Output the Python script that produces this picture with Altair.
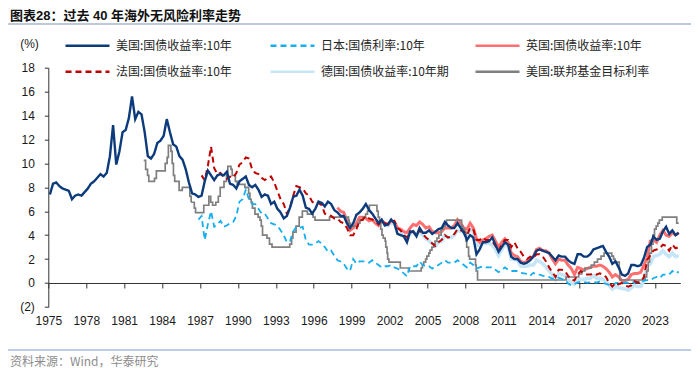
import altair as alt
import pandas as pd

# ---------------- data ----------------
S_US = "美国:国债收益率:10年"
S_JP = "日本:国债利率:10年"
S_UK = "英国:国债收益率:10年"
S_FR = "法国:国债收益率:10年"
S_DE = "德国:国债收益率:10年期"
S_FED = "美国:联邦基金目标利率"
# legend is filled column by column (2 rows x 3 columns)
series_names = [S_US, S_FR, S_JP, S_DE, S_UK, S_FED]
series_colors = ["#0C3B7C", "#C00000", "#16AEEF", "#C6E6F8", "#FF6F6F", "#7F7F7F"]
series_dash = [[1, 0], [6, 4], [6, 4], [1, 0], [1, 0], [1, 0]]

# quarterly readings, first quarter listed is the start of each series
us_start = 1975.0
us_10y = [
    7.4, 8.3, 8.4, 8.1,  7.9, 7.8, 7.7, 7.0,  7.3, 7.4, 7.3, 7.6,  7.9, 8.3, 8.5, 8.8,
    9.1, 8.9, 9.2, 10.6,  13.2, 9.9, 11.0, 12.6,  12.8, 13.8, 15.6, 13.7,  14.3, 14.1, 12.6, 10.6,
    10.4, 10.8, 11.7, 11.9,  12.3, 13.7, 12.6, 11.6,  11.4, 10.6, 10.3, 9.5,  8.4, 7.5, 7.4, 7.2,
    7.3, 8.5, 9.4, 9.0,  8.6, 9.0, 9.1, 9.0,  9.3, 8.3, 8.2, 7.9,  8.5, 8.7, 8.9, 8.2,
    8.0, 8.2, 7.8, 7.2,  7.4, 7.3, 6.6, 6.8,  6.2, 5.9, 5.4, 5.6,  6.3, 7.2, 7.3, 7.8,
    7.3, 6.3, 6.2, 5.8,  6.2, 6.8, 6.7, 6.4,  6.8, 6.6, 6.1, 5.9,  5.6, 5.6, 5.0, 4.6,
    5.0, 5.7, 5.9, 6.2,  6.6, 6.1, 5.8, 5.4,  5.0, 5.3, 4.8, 4.9,  5.3, 5.0, 4.1, 4.0,
    3.9, 3.4, 4.3, 4.3,  3.9, 4.6, 4.2, 4.2,  4.4, 4.1, 4.3, 4.5,  4.6, 5.1, 4.8, 4.6,
    4.6, 5.0, 4.6, 4.2,  3.6, 4.0, 3.8, 2.4,  2.8, 3.4, 3.4, 3.5,  3.8, 3.2, 2.6, 3.0,
    3.4, 3.2, 2.2, 2.0,  2.0, 1.7, 1.6, 1.7,  1.9, 2.2, 2.7, 2.8,  2.7, 2.6, 2.5, 2.2,
    1.9, 2.3, 2.2, 2.2,  1.9, 1.7, 1.6, 2.4,  2.4, 2.2, 2.2, 2.4,  2.8, 2.9, 3.0, 3.1,
    2.6, 2.2, 1.6, 1.8,  1.3, 0.7, 0.6, 0.8,  1.5, 1.5, 1.4, 1.5,  2.1, 3.0, 3.2, 3.9,
    3.6, 3.7, 4.3, 4.7,  4.1, 4.4, 4.0, 4.2,
]

jp_start = 1986.75
jp_10y = [
    5.3,
    5.6, 3.6, 4.9, 6.0,  4.7, 4.9, 5.2, 4.7,  4.8, 5.0, 5.1, 5.6,  6.8, 7.0, 7.8, 7.0,
    6.6, 6.6, 6.2, 5.8,  5.8, 5.4, 5.0, 4.9,  4.8, 4.4, 4.0, 3.4,  3.5, 4.3, 4.7, 4.6,
    4.7, 3.6, 3.2, 3.2,  3.3, 3.5, 3.3, 3.0,  2.6, 2.7, 2.3, 1.9,  1.8, 1.6, 1.2, 1.0,
    2.0, 1.6, 1.8, 1.8,  1.8, 1.7, 1.9, 1.7,  1.5, 1.3, 1.4, 1.4,  1.5, 1.3, 1.2, 1.0,
    0.8, 0.55, 1.4, 1.4,  1.4, 1.8, 1.5, 1.4,  1.4, 1.2, 1.4, 1.5,  1.7, 1.9, 1.7, 1.7,
    1.7, 1.9, 1.7, 1.5,  1.3, 1.7, 1.5, 1.2,  1.3, 1.4, 1.3, 1.3,  1.3, 1.1, 0.9, 1.1,
    1.3, 1.1, 1.0, 1.0,  1.0, 0.85, 0.8, 0.75,  0.6, 0.85, 0.7, 0.7,  0.6, 0.6, 0.5, 0.35,
    0.4, 0.45, 0.35, 0.3,  -0.05, -0.2, -0.1, 0.05,  0.07, 0.08, 0.03, 0.05,  0.05, 0.04, 0.12, 0.0,
    -0.08, -0.15, -0.2, -0.02,  0.0, 0.02, 0.02, 0.02,  0.1, 0.05, 0.05, 0.07,  0.2, 0.23, 0.24, 0.4,
    0.5, 0.4, 0.7, 0.7,  0.7, 1.0, 0.8, 0.95,
]

fr_start = 1987.0
fr_10y = [
    9.0, 8.6, 9.8, 11.4,  9.6, 9.1, 9.2, 8.8,  8.7, 8.9, 8.8, 9.2,  9.9, 10.1, 10.5, 10.4,
    9.5, 9.2, 9.1, 8.8,  8.6, 8.8, 8.9, 8.4,  7.7, 7.0, 6.6, 5.8,  6.3, 7.3, 8.1, 8.0,
    7.9, 7.5, 7.3, 6.8,  6.6, 6.7, 6.5, 5.8,  5.7, 5.6, 5.4, 5.4,  5.1, 5.0, 4.6, 4.0,
    4.0, 4.5, 5.2, 5.3,  5.6, 5.4, 5.3, 5.2,  4.9, 5.2, 5.0, 4.9,  5.1, 5.2, 4.6, 4.4,
    4.0, 3.8, 4.2, 4.3,  4.0, 4.4, 4.1, 3.8,  3.6, 3.3, 3.1, 3.4,  3.6, 4.0, 3.8, 3.9,
    4.1, 4.5, 4.4, 4.3,  4.0, 4.6, 4.5, 3.6,  3.6, 3.8, 3.6, 3.6,  3.5, 3.1, 2.7, 3.2,
    3.6, 3.6, 3.0, 3.4,  2.9, 2.6, 2.2, 2.0,  2.2, 2.1, 2.4, 2.4,  2.2, 1.8, 1.3, 0.9,
    0.5, 1.1, 1.1, 1.0,  0.6, 0.3, 0.2, 0.7,  1.0, 0.8, 0.7, 0.7,  0.8, 0.7, 0.8, 0.7,
    0.5, 0.0, -0.3, 0.0,  -0.1, 0.0, -0.2, -0.3,  -0.2, 0.15, 0.05, 0.1,  0.5, 1.9, 2.3, 2.7,
    2.8, 2.9, 3.2, 3.1,  2.7, 3.2, 2.9, 3.0,
]

uk_start = 1997.75
uk_10y = [
    6.3,
    6.0, 5.9, 5.2, 4.4,  4.6, 5.0, 5.5, 5.5,  5.4, 5.2, 5.3, 5.0,  4.8, 5.2, 5.0, 4.9,
    5.2, 5.1, 4.6, 4.5,  4.3, 4.2, 4.6, 4.9,  4.8, 5.1, 4.9, 4.6,  4.7, 4.3, 4.2, 4.2,
    4.3, 4.6, 4.6, 4.6,  4.8, 5.3, 5.0, 4.6,  4.5, 5.0, 4.6, 3.7,  3.4, 3.6, 3.7, 3.9,
    4.0, 3.5, 3.0, 3.4,  3.7, 3.4, 2.5, 2.3,  2.2, 1.8, 1.7, 1.8,  2.0, 2.2, 2.8, 2.9,
    2.7, 2.7, 2.5, 2.0,  1.6, 2.0, 1.9, 1.9,  1.5, 1.2, 0.7, 1.3,  1.2, 1.1, 1.2, 1.3,
    1.4, 1.4, 1.5, 1.4,  1.2, 0.9, 0.5, 0.7,  0.5, 0.2, 0.2, 0.3,  0.7, 0.8, 0.8, 0.9,
    1.5, 2.1, 3.5, 3.6,  3.4, 4.0, 4.4, 4.0,  3.9, 4.2, 4.0, 4.2,
]

de_start = 2001.5
de_10y = [
    5.0, 4.8,
    5.0, 5.0, 4.5, 4.4,  4.0, 3.8, 4.1, 4.3,  4.0, 4.3, 4.0, 3.7,  3.5, 3.3, 3.1, 3.4,
    3.5, 4.0, 3.8, 3.8,  4.0, 4.4, 4.3, 4.3,  3.9, 4.5, 4.3, 3.2,  3.1, 3.4, 3.3, 3.3,
    3.2, 2.8, 2.3, 2.8,  3.2, 3.1, 2.0, 2.0,  1.9, 1.4, 1.4, 1.4,  1.5, 1.5, 1.9, 1.8,
    1.6, 1.3, 1.0, 0.7,  0.3, 0.8, 0.7, 0.6,  0.3, 0.0, -0.1, 0.2,  0.3, 0.3, 0.4, 0.4,
    0.6, 0.4, 0.4, 0.3,  0.1, -0.2, -0.5, -0.3,  -0.4, -0.45, -0.5, -0.6,  -0.4, -0.2, -0.3, -0.3,
    0.2, 1.4, 1.6, 2.2,  2.3, 2.4, 2.7, 2.4,  2.2, 2.5, 2.2, 2.3,
]

fed_dates = [
    1982.55, 1982.7, 1982.85, 1982.95, 1983.4, 1983.55, 1984.25, 1984.4, 1984.5, 1984.7,
    1984.8, 1984.9, 1985.0, 1985.35, 1985.6, 1986.2, 1986.3, 1986.55, 1986.65, 1987.3,
    1987.7, 1987.85, 1988.0, 1988.25, 1988.45, 1988.6, 1988.9, 1989.1, 1989.2, 1989.45,
    1989.55, 1989.8, 1989.95, 1990.55, 1990.85, 1990.95, 1991.05, 1991.15, 1991.35, 1991.6,
    1991.75, 1991.85, 1991.95, 1992.3, 1992.5, 1992.7, 1994.1, 1994.25, 1994.35, 1994.6,
    1994.85, 1995.1, 1995.5, 1995.95, 1996.1, 1997.25, 1998.75, 1998.8, 1998.9, 1999.5,
    1999.65, 1999.9, 2000.1, 2000.25, 2000.4, 2001.0, 2001.1, 2001.2, 2001.3, 2001.4,
    2001.5, 2001.65, 2001.7, 2001.8, 2001.85, 2001.95, 2002.85, 2003.5, 2004.5, 2004.6,
    2004.7, 2004.85, 2004.95, 2005.1, 2005.2, 2005.35, 2005.5, 2005.6, 2005.75, 2005.9,
    2006.08, 2006.25, 2006.4, 2006.5, 2007.7, 2007.8, 2007.95, 2008.05, 2008.1, 2008.25,
    2008.33, 2008.8, 2008.85, 2008.96, 2015.96, 2016.96, 2017.2, 2017.45, 2017.96, 2018.2,
    2018.45, 2018.73, 2018.97, 2019.58, 2019.72, 2019.83, 2020.17, 2020.21, 2022.21, 2022.34,
    2022.46, 2022.57, 2022.72, 2022.84, 2022.96, 2023.09, 2023.22, 2023.34, 2023.57, 2024.72,
    2024.875,
]
fed_rate = [
    10.25, 9.5, 9.0, 8.5, 8.75, 9.375, 10.0, 10.5, 11.5, 11.0,
    10.0, 9.0, 8.5, 7.75, 8.0, 7.25, 6.75, 6.25, 5.875, 6.5,
    7.25, 6.75, 6.5, 6.75, 7.25, 8.0, 8.5, 9.0, 9.75, 9.5,
    9.0, 8.5, 8.25, 8.0, 7.5, 7.0, 6.75, 6.25, 5.75, 5.5,
    5.25, 4.75, 4.0, 3.75, 3.25, 3.0, 3.25, 3.75, 4.25, 4.75,
    5.5, 6.0, 5.75, 5.5, 5.25, 5.5, 5.25, 5.0, 4.75, 5.0,
    5.25, 5.5, 5.75, 6.0, 6.5, 6.0, 5.5, 5.0, 4.5, 4.0,
    3.75, 3.5, 3.0, 2.5, 2.0, 1.75, 1.25, 1.0, 1.25, 1.5,
    1.75, 2.0, 2.25, 2.5, 2.75, 3.0, 3.25, 3.5, 3.75, 4.0,
    4.5, 4.75, 5.0, 5.25, 4.75, 4.5, 4.25, 3.5, 3.0, 2.25,
    2.0, 1.5, 1.0, 0.25, 0.5, 0.75, 1.0, 1.25, 1.5, 1.75,
    2.0, 2.25, 2.5, 2.25, 2.0, 1.75, 1.25, 0.25, 0.5, 1.0,
    1.75, 2.5, 3.25, 4.0, 4.5, 4.75, 5.0, 5.25, 5.5, 5.0,
    5.0,
]

year_ticks = list(range(1975, 2024, 3))
y_ticks = list(range(-2, 19, 2))

TITLE = "图表28：过去 40 年海外无风险利率走势"
SOURCE = "资料来源：Wind，华泰研究"


def quarterly(name, start, values):
    return pd.DataFrame({
        "t": [start + 0.25 * i + 0.125 for i in range(len(values))],
        "v": values,
        "series": name,
    })


df = pd.concat([
    quarterly(S_US, us_start, us_10y),
    quarterly(S_JP, jp_start, jp_10y),
    quarterly(S_UK, uk_start, uk_10y),
    quarterly(S_FR, fr_start, fr_10y),
    quarterly(S_DE, de_start, de_10y),
    pd.DataFrame({"t": fed_dates, "v": fed_rate, "series": S_FED}),
], ignore_index=True)

# ---------------- chart ----------------
W, H = 632, 239.2
NUM_FONT = "Liberation Sans Narrow, Arial Narrow, Liberation Sans, Arial"
CJK_FONT = "Noto Sans CJK SC"
TITLE_FONT = "Liberation Sans, Arial, Noto Sans CJK SC"

legend = alt.Legend(
    title=None, orient="none", legendX=15.7, legendY=-29, columns=3,
    gridAlign="all", columnPadding=25, rowPadding=12, clipHeight=14,
    symbolType="stroke", symbolSize=1936, symbolStrokeWidth=2.5,
    labelFont=CJK_FONT, labelFontSize=12, labelColor="#262626", labelOffset=5,
    labelLimit=300,
)

x_enc = alt.X(
    "t:Q",
    scale=alt.Scale(domain=[1975, 2025], nice=False, zero=False),
    axis=alt.Axis(
        values=year_ticks, format="d", title=None, grid=False, offset=-23.9,
        domainColor="#333333", tickColor="#333333", tickSize=5, labelPadding=28,
        labelFont=NUM_FONT, labelFontSize=12, labelColor="#1a1a1a", labelBaseline="top",
        labelFlush=False, labelOverlap=False,
    ),
)
y_enc = alt.Y(
    "v:Q",
    scale=alt.Scale(domain=[-2, 18], nice=False, zero=False),
    axis=alt.Axis(
        values=y_ticks, title="(%)", grid=False,
        labelExpr="datum.value < 0 ? '(' + abs(datum.value) + ')' : datum.value",
        domainColor="#333333", tickColor="#333333", tickSize=4, labelPadding=10,
        labelFont=NUM_FONT, labelFontSize=12, labelColor="#1a1a1a",
        titleAngle=0, titleX=-19.3, titleY=-24.4, titleAlign="center",
        titleBaseline="middle", titleFont=NUM_FONT, titleFontSize=12,
        titleFontWeight="normal", titleColor="#1a1a1a",
    ),
)
color_enc = alt.Color(
    "series:N", scale=alt.Scale(domain=series_names, range=series_colors), legend=legend
)
dash_enc = alt.StrokeDash(
    "series:N", scale=alt.Scale(domain=series_names, range=series_dash), legend=legend
)

base = alt.Chart(df).encode(x=x_enc, y=y_enc, color=color_enc, strokeDash=dash_enc)


def series_layer(name, width, interp="linear"):
    return base.mark_line(strokeWidth=width, interpolate=interp).transform_filter(
        alt.datum.series == name
    )


lines = [
    series_layer(S_DE, 3.6),
    series_layer(S_UK, 3.0),
    series_layer(S_FED, 1.7, "step-after"),
    series_layer(S_JP, 1.8),
    series_layer(S_FR, 2.0),
    series_layer(S_US, 2.4),
]

title_df = pd.DataFrame({"label": [TITLE]})
source_df = pd.DataFrame({"label": [SOURCE]})

title_text = alt.Chart(title_df).mark_text(
    align="left", baseline="middle", font=TITLE_FONT, fontSize=13, fontWeight="bold",
    color="#111111",
).encode(text="label:N", x=alt.value(-38.3), y=alt.value(-51.9))

top_rule = alt.Chart(title_df).mark_rule(color="#A7B8D1", strokeWidth=1.5).encode(
    x=alt.value(-40.3), x2=alt.value(643.7), y=alt.value(-43.7)
)
bottom_rule = alt.Chart(source_df).mark_rule(color="#7F9CCB", strokeWidth=1.2).encode(
    x=alt.value(-40.3), x2=alt.value(643.7), y=alt.value(282.3)
)
source_text = alt.Chart(source_df).mark_text(
    align="left", baseline="middle", font=CJK_FONT, fontSize=12, color="#8C8C8C",
).encode(text="label:N", x=alt.value(-38.3), y=alt.value(294))

chart = alt.layer(*lines, title_text, top_rule, bottom_rule, source_text).properties(
    width=W, height=H,
    padding={"left": 40.3, "top": 59.7, "right": 11, "bottom": 61},
    autosize=alt.AutoSizeParams(type="none"),
    background="white",
).configure_view(stroke=None)

chart.save("out.html", embed_options={"renderer": "svg", "actions": False})
